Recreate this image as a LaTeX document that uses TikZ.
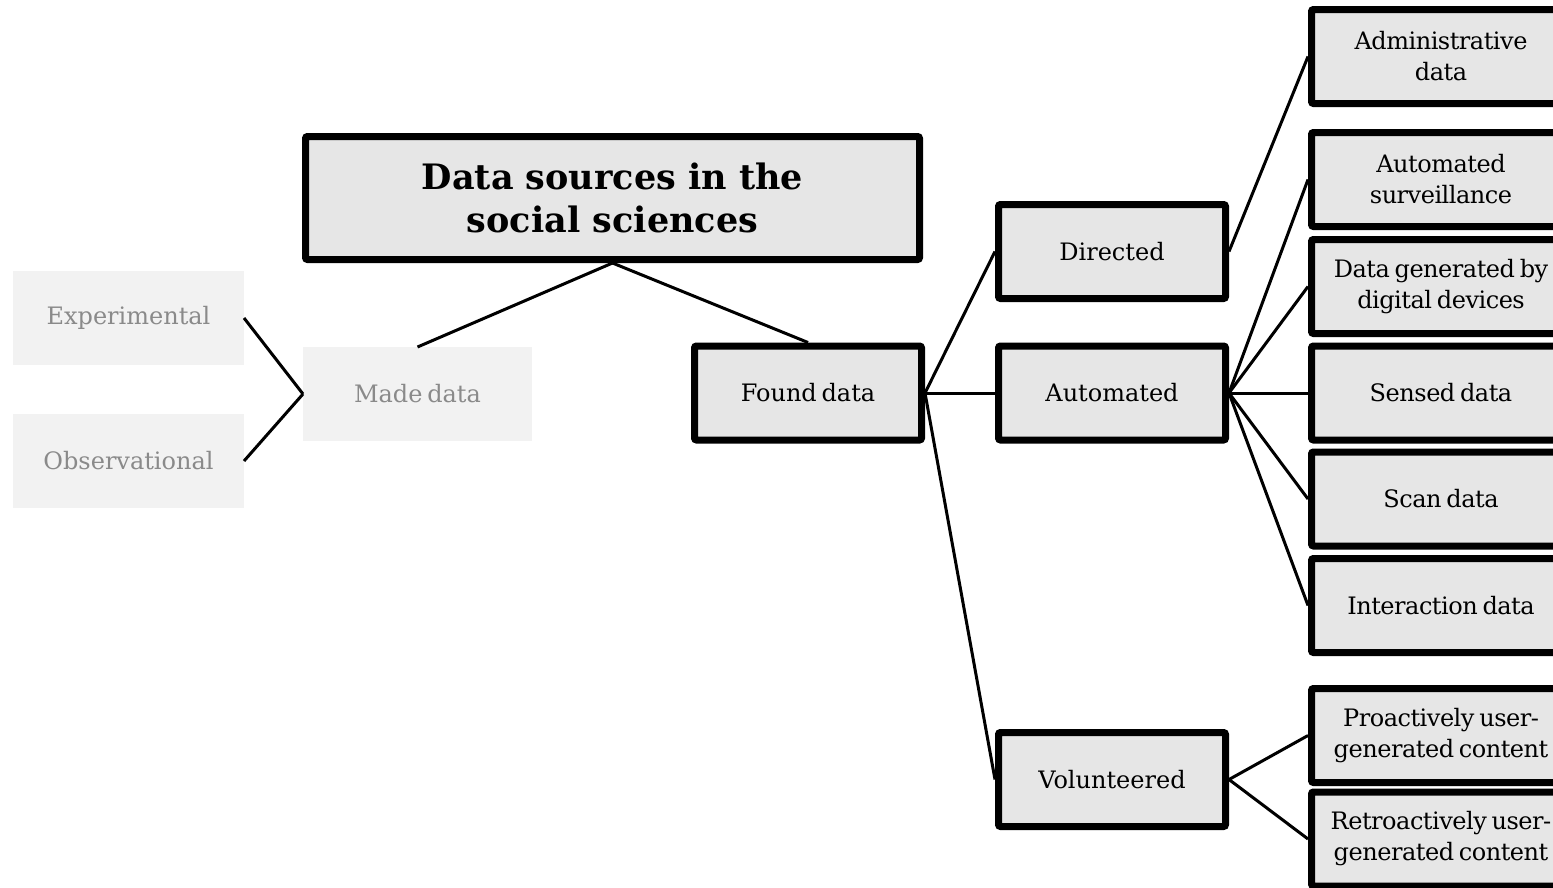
\documentclass[tikz,border=0pt]{standalone}
\usepackage{fontspec}
\setmainfont{DejaVu Serif}
\newfontfamily\tightserif[LetterSpace=-2]{DejaVu Serif}
\definecolor{boxgray}{HTML}{E6E6E6}
\definecolor{palegray}{HTML}{F2F2F2}
\definecolor{fadedtext}{HTML}{8A8A8A}
\newcommand\labelfont{\fontsize{24}{31}\selectfont\spaceskip=0.2em plus 0.05em\relax}
\newcommand\leaffont{\tightserif\fontsize{24}{31}\selectfont\spaceskip=0.2em plus 0.05em\relax}
\tikzset{
  databox/.style={draw=black, line width=7pt, fill=boxgray, rounded corners=2pt,
    align=center, inner sep=0pt, text=black, font=\labelfont},
  midbox/.style={databox, minimum width=227pt, minimum height=94pt},
  leafbox/.style={databox, minimum width=259pt, minimum height=94pt, font=\leaffont},
  madebox/.style={fill=palegray, draw=none, inner sep=0pt, outer sep=0pt, align=center,
    text=fadedtext, minimum height=94pt, font=\labelfont},
  link/.style={line width=3pt, black}
}
\begin{document}
\begin{tikzpicture}[x=1pt, y=-1pt]
\useasboundingbox (0,0) rectangle (1553,887);
\clip (0,0) rectangle (1553,887);

% root
\node[databox, minimum width=614pt, minimum height=123pt,
      font=\fontsize{35}{43}\selectfont\bfseries] (root) at (612.5,198)
      {Data sources in the\\social sciences};

% made data branch
\node[madebox, minimum width=229pt] (made) at (417.5,394) {Made data};
\node[madebox, minimum width=231pt] (exper) at (128.5,318) {Experimental};
\node[madebox, minimum width=231pt] (obs) at (128.5,461) {Observational};

% found data branch
\node[midbox] (found) at (808,393) {Found data};
\node[midbox] (directed) at (1112,251.5) {Directed};
\node[midbox] (automated) at (1112,393) {Automated};
\node[midbox] (volunteered) at (1112,779.5) {Volunteered};

% leaves
\node[leafbox] (admin) at (1441,56.5) {Administrative\\data};
\node[leafbox] (surv) at (1441,179.5) {Automated\\surveillance};
\node[leafbox] (devices) at (1441,286.5) {Data generated by\\digital devices};
\node[leafbox] (sensed) at (1441,393) {Sensed data};
\node[leafbox] (scan) at (1441,499) {Scan data};
\node[leafbox] (inter) at (1441,605.5) {Interaction data};
\node[leafbox] (pro) at (1441,735.5) {Proactively user-\\generated content};
\node[leafbox] (retro) at (1441,839) {Retroactively user-\\generated content};

% connectors
\draw[link] (root.south) -- (made.north);
\draw[link] (root.south) -- (found.north);
\draw[link] (exper.east) -- (made.west);
\draw[link] (obs.east) -- (made.west);
\draw[link] (found.east) -- (directed.west);
\draw[link] (found.east) -- (automated.west);
\draw[link] (found.east) -- (volunteered.west);
\draw[link] (directed.east) -- (admin.west);
\foreach \leaf in {surv,devices,sensed,scan,inter}
  \draw[link] (automated.east) -- (\leaf.west);
\draw[link] (volunteered.east) -- (pro.west);
\draw[link] (volunteered.east) -- (retro.west);
\end{tikzpicture}
\end{document}
